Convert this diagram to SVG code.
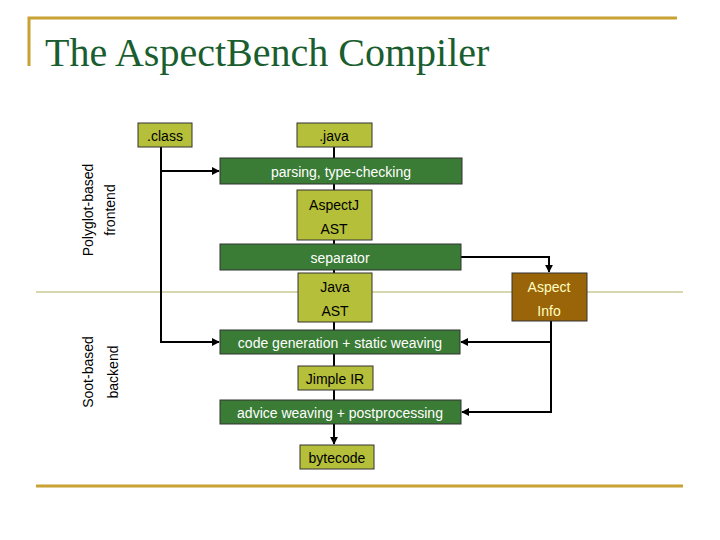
<svg xmlns="http://www.w3.org/2000/svg" width="720" height="540" viewBox="0 0 720 540">
<defs>
<style>
.lt{fill:#b5bf3a;stroke:#333;stroke-width:1}
.dk{fill:#3a7b35;stroke:#333;stroke-width:1}
.br{fill:#9a6508;stroke:#333;stroke-width:1}
text{font-family:"Liberation Sans",Arial,sans-serif;font-size:14px;text-anchor:middle}
.w{fill:#fff}
.k{fill:#000}
.y{fill:#ffffc0}
.c{stroke:#000;stroke-width:2;fill:none}
</style>
<marker id="a" viewBox="0 0 10 10" refX="9" refY="5" markerWidth="4" markerHeight="4" orient="auto"><path d="M0,0L10,5L0,10z" fill="#000"/></marker>
</defs>
<rect width="720" height="540" fill="#fff"/>
<path d="M29,66V18H677" stroke="#c8a232" stroke-width="3" fill="none"/>
<line x1="36" y1="486" x2="683" y2="486" stroke="#c8a232" stroke-width="3"/>
<line x1="36" y1="292" x2="683" y2="292" stroke="#b0b060" stroke-width="1"/>
<text x="45" y="66" style="font-family:'Liberation Serif',serif;font-size:40px;text-anchor:start;fill:#1a5e30">The AspectBench Compiler</text>
<text transform="translate(93,210) rotate(-90)">Polyglot-based</text>
<text transform="translate(115,210) rotate(-90)">frontend</text>
<text transform="translate(93,372) rotate(-90)">Soot-based</text>
<text transform="translate(118,372) rotate(-90)">backend</text>
<g id="connectors">
<path class="c" d="M334,147V158M334,184V190M334,240V244M334,270V273M334,322V330M334,354V366M334,390V400"/>
<path class="c" d="M334,424V444" marker-end="url(#a)"/>
<path class="c" d="M161,147V171H219" marker-end="url(#a)"/>
<path class="c" d="M161,171V342H219" marker-end="url(#a)"/>
<path class="c" d="M461,257H549V272" marker-end="url(#a)"/>
<path class="c" d="M551,321V342H461" marker-end="url(#a)"/>
<path class="c" d="M551,342V412H462" marker-end="url(#a)"/>
</g>
<g id="class"><rect class="lt" x="138" y="123" width="54" height="24"/><text class="k" x="165" y="141">.class</text></g>
<g id="java"><rect class="lt" x="297" y="123" width="75" height="24"/><text class="k" x="334" y="141">.java</text></g>
<g id="parsing"><rect class="dk" x="220" y="158" width="242" height="26"/><text class="w" x="341" y="177">parsing, type-checking</text></g>
<g id="ajast"><rect class="lt" x="297" y="190" width="75" height="50"/><text class="k" x="334" y="210">AspectJ</text><text class="k" x="334" y="234">AST</text></g>
<g id="separator"><rect class="dk" x="220" y="244" width="241" height="26"/><text class="w" x="340" y="263">separator</text></g>
<g id="javaast"><rect class="lt" x="298" y="273" width="74" height="49"/><text class="k" x="335" y="292">Java</text><text class="k" x="335" y="316">AST</text></g>
<g id="aspectinfo"><rect class="br" x="512" y="273" width="75" height="48"/><text class="y" x="549" y="292">Aspect</text><text class="y" x="549" y="316">Info</text></g>
<g id="codegen"><rect class="dk" x="220" y="330" width="240" height="24"/><text class="w" x="340" y="348">code generation + static weaving</text></g>
<g id="jimple"><rect class="lt" x="298" y="366" width="75" height="24"/><text class="k" x="335" y="384">Jimple IR</text></g>
<g id="advice"><rect class="dk" x="220" y="400" width="241" height="24"/><text class="w" x="340" y="418">advice weaving + postprocessing</text></g>
<g id="bytecode"><rect class="lt" x="300" y="445" width="74" height="24"/><text class="k" x="337" y="463">bytecode</text></g>
</svg>
